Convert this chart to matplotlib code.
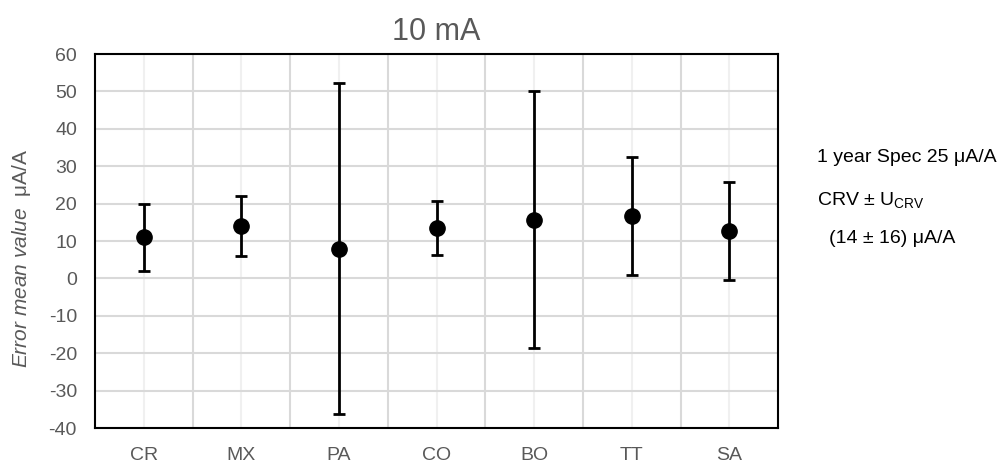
import matplotlib.pyplot as plt
from matplotlib.ticker import MultipleLocator, FixedLocator

plt.rcParams['font.family'] = ['Liberation Sans', 'DejaVu Sans']
plt.rcParams['axes.unicode_minus'] = False
plt.rcParams['mathtext.fontset'] = 'custom'
plt.rcParams['mathtext.rm'] = 'Liberation Sans'
plt.rcParams['mathtext.it'] = 'Liberation Sans:italic'

# data
labs = ["CR", "MX", "PA", "CO", "BO", "TT", "SA"]
means = [11.0, 14.0, 8.0, 13.5, 15.7, 16.7, 12.7]
errs = [9.0, 8.0, 44.2, 7.2, 34.4, 15.8, 13.0]

fig = plt.figure(figsize=(10.08, 4.66), dpi=100)
ax = fig.add_axes([0.0942, 0.0815, 0.6778, 0.8025])

x = range(len(labs))
ax.errorbar(x, means, yerr=errs, fmt='o', color='black', ecolor='black',
            markersize=11, elinewidth=2, capsize=4.5, capthick=2, zorder=3)

ax.set_xlim(-0.5, len(labs) - 0.5)
ax.set_ylim(-40, 60)
ax.yaxis.set_major_locator(MultipleLocator(10))
ax.set_xticks(list(x))
ax.set_xticklabels(labs)
ax.xaxis.set_minor_locator(FixedLocator([i + 0.5 for i in range(len(labs) - 1)]))

ax.grid(axis='y', which='major', color='#d9d9d9', lw=1.5, zorder=0)
ax.grid(axis='x', which='major', color='#f0f0f0', lw=1.5, zorder=0)
ax.grid(axis='x', which='minor', color='#d9d9d9', lw=1.5, zorder=0)
ax.tick_params(which='both', length=0, labelsize=14, labelcolor='#595959')
ax.tick_params(axis='x', pad=14)
ax.tick_params(axis='y', pad=13)
for s in ax.spines.values():
    s.set_linewidth(1.5)
    s.set_color('black')

ax.set_title("10 mA", fontsize=22, color='#595959', pad=10)

# y label: italic part and upright unit
fig.text(0.021, 0.446, "$\\mathit{Error\\ mean\\ value}$  μA/A", rotation=90, fontsize=15,
         color='#595959', ha='center', va='center')

fig.text(0.811, 0.663, "1 year Spec 25 μA/A", fontsize=14, color='black', va='center')
fig.text(0.811, 0.570, "CRV ± U$_{\\mathrm{CRV}}$", fontsize=14, color='black', va='center')
fig.text(0.822, 0.489, "(14 ± 16) μA/A", fontsize=14, color='black', va='center')

fig.savefig("out.png", dpi=100)
